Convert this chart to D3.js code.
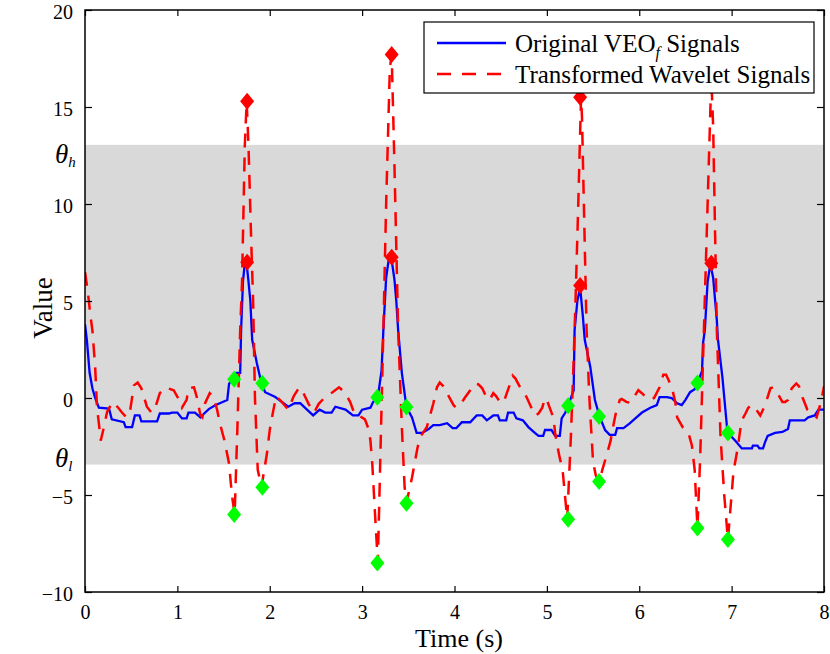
<!DOCTYPE html>
<html>
<head>
<meta charset="utf-8">
<script src="https://d3js.org/d3.v7.min.js"></script>
<style>
  html, body { margin: 0; padding: 0; background: #fff; }
  svg text { font-family: "Liberation Serif", "Times New Roman", serif; }
</style>
</head>
<body>
<script>
// ---- data ----
var timeTicks = [0, 1, 2, 3, 4, 5, 6, 7, 8];
var valueTicks = [-10, -5, 0, 5, 10, 15, 20];
var thetaHigh = 13.05, thetaLow = -3.43;

// Original VEO_f signal
var veoT = [0.00,0.02,0.05,0.08,0.11,0.15,0.26,0.29,0.42,0.44,0.51,0.54,0.59,0.61,0.78,0.81,0.91,0.94,1.00,1.05,
            1.10,1.12,1.19,1.25,1.29,1.34,1.41,1.54,1.56,1.62,1.64,1.68,1.69,1.71,1.73,1.75,1.77,1.79,1.81,1.86,
            1.91,1.95,2.06,2.13,2.20,2.27,2.33,2.38,2.47,2.54,2.60,2.67,2.71,2.82,2.90,2.96,3.00,3.09,3.12,3.17,
            3.21,3.23,3.26,3.29,3.32,3.35,3.37,3.39,3.43,3.48,3.54,3.59,3.65,3.72,3.77,3.84,3.92,3.98,4.02,4.08,
            4.17,4.24,4.30,4.35,4.42,4.47,4.49,4.56,4.58,4.64,4.67,4.74,4.80,4.87,4.91,4.96,4.98,5.05,5.09,5.14,
            5.16,5.20,5.23,5.29,5.30,5.33,5.36,5.39,5.41,5.47,5.52,5.57,5.63,5.68,5.74,5.76,5.83,5.90,5.97,6.03,
            6.12,6.19,6.22,6.30,6.35,6.41,6.46,6.50,6.55,6.60,6.63,6.68,6.69,6.71,6.74,6.77,6.80,6.84,6.85,6.90,
            6.95,6.96,7.04,7.11,7.22,7.23,7.28,7.30,7.34,7.36,7.39,7.47,7.55,7.61,7.63,7.79,7.83,7.90,7.94,8.00];
var veoV = [3.8,3.0,1.3,0.5,0.0,-0.5,-0.55,-1.1,-1.25,-1.5,-1.5,-0.9,-0.9,-1.2,-1.2,-0.8,-0.8,-0.75,-0.75,-1.05,
            -1.05,-0.75,-0.75,-1.0,-0.8,-0.57,-0.37,-0.1,0.75,1.0,1.3,1.3,3.5,6.0,6.95,6.9,6.0,5.0,3.0,1.8,
            0.76,0.3,0.05,-0.2,-0.45,-0.27,-0.27,-0.5,-0.9,-0.6,-0.75,-0.75,-0.45,-0.6,-0.9,-0.9,-0.6,-0.5,-0.2,0.04,
            1.4,3.5,6.2,7.2,7.1,6.1,5.0,3.5,1.3,-0.47,-1.0,-1.8,-1.8,-1.6,-1.4,-1.4,-1.3,-1.55,-1.55,-1.25,
            -1.25,-0.9,-0.9,-1.15,-0.9,-0.9,-1.15,-1.15,-0.75,-0.75,-1.05,-1.15,-1.5,-1.8,-1.95,-1.95,-1.65,-1.65,-1.95,-1.95,
            -1.05,-0.75,-0.4,0.4,3.5,5.0,5.7,4.2,3.0,1.6,-0.1,-0.95,-1.65,-1.9,-1.9,-1.55,-1.55,-1.3,-1.0,-0.75,
            -0.5,-0.37,0.05,0.05,0.0,-0.27,-0.37,-0.1,0.3,0.45,0.77,1.4,2.8,3.5,6.0,6.9,6.2,4.0,3.1,1.08,
            -1.5,-1.8,-2.2,-2.6,-2.6,-2.45,-2.45,-2.6,-2.6,-2.3,-1.95,-1.8,-1.75,-1.6,-1.15,-1.15,-1.0,-0.9,-0.6,-0.6];

// Transformed wavelet signal
var waveT = [0.00,0.03,0.06,0.08,0.11,0.13,0.15,0.17,0.20,0.24,0.30,0.36,0.40,0.45,0.49,0.53,0.57,0.61,0.67,0.72,
             0.76,0.81,0.87,0.96,1.02,1.05,1.10,1.12,1.18,1.21,1.25,1.27,1.30,1.35,1.39,1.43,1.46,1.51,1.56,1.59,
             1.62,1.65,1.68,1.70,1.73,1.75,1.77,1.80,1.82,1.84,1.87,1.91,1.97,2.00,2.04,2.07,2.13,2.20,2.26,2.32,
             2.36,2.42,2.48,2.53,2.60,2.68,2.75,2.81,2.87,2.92,2.98,3.03,3.07,3.09,3.11,3.14,3.17,3.20,3.23,3.26,
             3.30,3.32,3.35,3.39,3.43,3.46,3.48,3.54,3.60,3.63,3.70,3.77,3.81,3.84,3.88,3.93,3.99,4.02,4.07,4.11,
             4.17,4.22,4.26,4.30,4.35,4.38,4.42,4.45,4.49,4.53,4.57,4.60,4.63,4.66,4.71,4.78,4.82,4.87,4.91,4.95,
             4.98,5.00,5.03,5.07,5.09,5.11,5.14,5.17,5.22,5.26,5.29,5.31,5.34,5.37,5.38,5.43,5.46,5.50,5.53,5.57,
             5.60,5.65,5.69,5.72,5.75,5.79,5.81,5.86,5.90,5.95,5.99,6.04,6.08,6.12,6.16,6.22,6.26,6.29,6.32,6.36,
             6.39,6.41,6.47,6.53,6.57,6.60,6.63,6.66,6.70,6.74,6.78,6.80,6.84,6.88,6.92,6.96,7.02,7.05,7.07,7.09,
             7.11,7.15,7.18,7.22,7.26,7.31,7.35,7.38,7.42,7.45,7.49,7.55,7.58,7.61,7.65,7.70,7.73,7.77,7.82,7.88,
             7.92,7.95,7.98,8.00];
var waveV = [6.5,5.5,4.2,3.5,1.6,-0.5,-1.3,-2.2,-1.6,-0.7,-0.2,-0.5,-0.75,-1.0,-0.6,0.65,0.8,0.5,-0.45,-0.75,
             -0.5,0.25,0.55,0.4,-0.1,-0.5,-0.1,0.5,0.55,0.05,-0.9,-1.0,-0.27,0.25,0.05,-0.6,-1.3,-2.2,-3.4,-5.0,
             -6.0,-1.5,3.5,6.0,13.0,15.3,13.0,8.0,5.0,0.0,-3.7,-4.6,-2.85,-1.65,-0.6,0.1,-0.2,-0.6,0.1,0.55,
             0.3,-0.3,-0.75,-0.3,0.05,0.3,0.55,0.3,-0.2,-0.85,-0.95,-1.1,-1.6,-2.2,-3.4,-6.0,-8.5,-2.5,3.5,10.0,
             17.0,17.7,12.0,3.5,-1.5,-4.6,-5.4,-4.1,-2.55,-2.0,-1.5,-0.3,0.55,0.8,0.6,0.15,-0.37,-0.5,-0.3,0.0,
             0.4,0.75,0.7,0.5,0.0,-0.1,0.25,0.1,-0.2,-0.25,0.3,0.7,1.15,1.0,0.55,0.05,-0.37,-0.9,-0.8,-0.5,
             0.0,-0.1,-0.5,-1.0,-1.8,-2.4,-3.1,-3.7,-6.25,-2.0,2.0,5.0,10.0,15.5,14.5,3.5,0.0,-3.3,-4.0,-4.3,
             -3.7,-2.9,-2.2,-1.4,-0.7,-0.1,-0.05,-0.2,-0.25,0.1,0.4,0.2,0.0,-0.1,0.0,0.55,1.2,1.2,0.9,0.4,
             -0.2,-1.0,-1.5,-1.75,-2.45,-3.7,-6.7,-3.0,3.5,10.0,16.5,14.0,3.5,-2.0,-5.0,-7.3,-3.8,-3.0,-2.45,-1.75,
             -1.15,-0.8,-0.5,-0.35,-0.55,-0.9,-0.5,-0.1,0.5,0.55,0.3,-0.2,-0.2,-0.1,0.5,0.75,0.6,0.0,-0.6,-0.85,
             -1.0,-0.5,0.1,0.6];

// detected points
var peakT = [1.755, 3.32, 5.36, 6.78];
var peakWaveV = [15.3, 17.7, 15.5, 16.4];
var peakVeoV = [7.0, 7.26, 5.8, 6.94];
var onsetT = [1.615, 3.165, 5.23, 6.63];
var onsetVeoV = [0.97, 0.04, -0.4, 0.77];
var onsetWaveV = [-6.0, -8.5, -6.25, -6.7];
var offsetT = [1.92, 3.48, 5.565, 6.96];
var offsetVeoV = [0.76, -0.47, -0.95, -1.8];
var offsetWaveV = [-4.6, -5.43, -4.3, -7.3];

// ---- drawing ----
var width = 830, height = 654;
var svg = d3.select("body").append("svg")
    .attr("width", width).attr("height", height);

var x = d3.scaleLinear().domain([0, 8]).range([85, 824]);
var y = d3.scaleLinear().domain([-10, 20]).range([592, 10]);

svg.append("clipPath").attr("id", "plot-clip")
  .append("rect")
    .attr("x", x(0)).attr("y", y(20))
    .attr("width", x(8) - x(0)).attr("height", y(-10) - y(20));

// threshold band
svg.append("rect")
    .attr("x", x(0)).attr("y", y(thetaHigh))
    .attr("width", x(8) - x(0))
    .attr("height", y(thetaLow) - y(thetaHigh))
    .attr("fill", "#d9d9d9");

var line = d3.line()
    .x(function(d) { return x(d[0]); })
    .y(function(d) { return y(d[1]); });

var plot = svg.append("g").attr("clip-path", "url(#plot-clip)");

plot.append("path")
    .datum(d3.zip(veoT, veoV))
    .attr("d", line)
    .attr("fill", "none")
    .attr("stroke", "#0000ff")
    .attr("stroke-width", 2.3);

plot.append("path")
    .datum(d3.zip(waveT, waveV))
    .attr("d", line)
    .attr("fill", "none")
    .attr("stroke", "#ff0000")
    .attr("stroke-width", 2.5)
    .attr("stroke-dasharray", "14,10");

var diamond = "M0,-8.5L7,0L0,8.5L-7,0Z";
function markers(ts, vs, colour) {
  plot.selectAll(null)
      .data(d3.zip(ts, vs))
      .enter().append("path")
      .attr("d", diamond)
      .attr("transform", function(d) { return "translate(" + x(d[0]) + "," + y(d[1]) + ")"; })
      .attr("fill", colour);
}
markers(peakT, peakWaveV, "#ff0000");
markers(peakT, peakVeoV, "#ff0000");
markers(onsetT, onsetVeoV, "#00ff00");
markers(onsetT, onsetWaveV, "#00ff00");
markers(offsetT, offsetVeoV, "#00ff00");
markers(offsetT, offsetWaveV, "#00ff00");

// axes, ticks pointing inward
function styleAxis(g) {
  g.select(".domain").remove();
  g.selectAll("line").attr("stroke", "#000").attr("stroke-width", 1.2);
  g.selectAll("text")
    .attr("fill", "#000")
    .attr("font-size", 20);
}

svg.append("g")
    .attr("transform", "translate(0," + y(-10) + ")")
    .call(d3.axisBottom(x).tickValues(timeTicks).tickSize(-6).tickPadding(13).tickFormat(d3.format("d")))
    .call(styleAxis);

svg.append("g")
    .attr("transform", "translate(0," + y(20) + ")")
    .call(d3.axisTop(x).tickValues(timeTicks).tickSize(-6).tickFormat(""))
    .call(styleAxis);

svg.append("g")
    .attr("transform", "translate(" + x(0) + ",0)")
    .call(d3.axisLeft(y).tickValues(valueTicks).tickSize(-7).tickPadding(12).tickFormat(d3.format("d")))
    .call(styleAxis)
    .selectAll("text").attr("dy", "0.42em");

svg.append("g")
    .attr("transform", "translate(" + x(8) + ",0)")
    .call(d3.axisRight(y).tickValues(valueTicks).tickSize(-7).tickFormat(""))
    .call(styleAxis);

svg.append("rect")
    .attr("x", x(0)).attr("y", y(20))
    .attr("width", x(8) - x(0)).attr("height", y(-10) - y(20))
    .attr("fill", "none")
    .attr("stroke", "#000")
    .attr("stroke-width", 1.5);

// threshold labels
[[thetaHigh, "h", 10], [thetaLow, "l", -6]].forEach(function(t) {
  var lab = svg.append("text")
      .attr("x", 55)
      .attr("y", y(t[0]) + t[2] + 8)
      .attr("font-size", 27)
      .attr("font-style", "italic");
  lab.append("tspan").text("θ");
  lab.append("tspan").attr("font-size", 15).attr("dy", 4).text(t[1]);
});

// axis titles
svg.append("text")
    .attr("x", 459)
    .attr("y", 647)
    .attr("text-anchor", "middle")
    .attr("font-size", 26)
    .text("Time (s)");

svg.append("text")
    .attr("transform", "translate(52,308) rotate(-90)")
    .attr("text-anchor", "middle")
    .attr("font-size", 27)
    .text("Value");

// legend
var legend = svg.append("g");
legend.append("rect")
    .attr("x", 424).attr("y", 22)
    .attr("width", 390).attr("height", 71)
    .attr("fill", "#fff")
    .attr("stroke", "#000")
    .attr("stroke-width", 1.2);

legend.append("line")
    .attr("x1", 437).attr("x2", 506).attr("y1", 43).attr("y2", 43)
    .attr("stroke", "#0000ff").attr("stroke-width", 2.3);
legend.append("line")
    .attr("x1", 437).attr("x2", 506).attr("y1", 74).attr("y2", 74)
    .attr("stroke", "#ff0000").attr("stroke-width", 2.5)
    .attr("stroke-dasharray", "14,11");

var l1 = legend.append("text").attr("x", 515).attr("y", 52).attr("font-size", 25);
l1.append("tspan").text("Original VEO");
l1.append("tspan").attr("font-size", 16).attr("font-style", "italic").attr("dy", 6).text("f");
l1.append("tspan").attr("dy", -6).text(" Signals");

legend.append("text").attr("x", 515).attr("y", 83).attr("font-size", 25)
    .text("Transformed Wavelet Signals");
</script>
</body>
</html>
